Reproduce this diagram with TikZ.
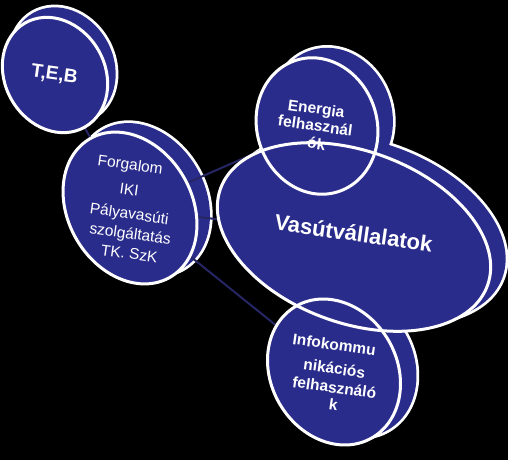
\documentclass[tikz,border=0pt]{standalone}
\usepackage{fontspec}
\setmainfont{Liberation Sans}
\definecolor{discblue}{RGB}{42,44,140}
\definecolor{linkblue}{RGB}{38,38,100}
\begin{document}
\begin{tikzpicture}[x=1pt,y=-1pt,
  backline/.style={draw=white,line width=5.5pt},
  discfill/.style={fill=discblue},
  frontline/.style={draw=white,line width=3pt},
  link/.style={draw=linkblue,line width=2pt},
  lblbase/.style={text=white,inner sep=0pt,rotate=-8,text height=0.72em,text depth=0.12em},
  lblb/.style={lblbase,font=\bfseries\fontsize{15.5}{17}\selectfont},
  lblr/.style={lblbase,font=\fontsize{15.5}{17}\selectfont}]
\fill[black] (0,0) rectangle (508,460);
\useasboundingbox (0,0) rectangle (508,460);
% centres
\coordinate (teb) at (55,75);
\coordinate (forg) at (130,208);
\coordinate (vasut) at (354,237);
\coordinate (energ) at (317,126);
\coordinate (info) at (334,372);
% back discs: outline of the union
\foreach \s in {backline,discfill}{
  \path[\s, rotate around={30:(63,65)}] (63,65) ellipse [x radius=50, y radius=60];
  \path[\s, rotate around={30:(143,199)}] (143,199) ellipse [x radius=62, y radius=80];
  \path[\s, rotate around={-20:(369,229)}] (369,229) ellipse [x radius=142, y radius=86];
  \path[\s, rotate around={18:(332,116)}] (332,116) ellipse [x radius=60, y radius=69];
  \path[\s, rotate around={30:(350,364)}] (350,364) ellipse [x radius=63, y radius=76];
}
% connectors
\draw[link] (teb) -- (forg);
\draw[link] (forg) -- (energ);
\draw[link] (forg) -- (vasut);
\draw[link] (forg) -- (info);
% front discs
\foreach \s in {discfill,frontline}{
  \path[\s, rotate around={30:(teb)}] (teb) ellipse [x radius=50, y radius=60];
  \path[\s, rotate around={30:(forg)}] (forg) ellipse [x radius=62, y radius=80];
  \path[\s, rotate around={-20:(vasut)}] (vasut) ellipse [x radius=142, y radius=86];
  \path[\s, rotate around={18:(energ)}] (energ) ellipse [x radius=60, y radius=69];
  \path[\s, rotate around={30:(info)}] (info) ellipse [x radius=63, y radius=76];
}
% labels
\node[lblb,font=\bfseries\fontsize{19}{21}\selectfont] (tebt) at (54,77) {T,E,B};
\node[lblr] (f1) at (130,167) {Forgalom};
\node[lblr] (f2) at (129,192) {IKI};
\node[lblr] (f3) at (129,216) {Pályavasúti};
\node[lblr] (f4) at (130,236) {szolgáltatás};
\node[lblr] (f5) at (129,256) {TK. SzK};
\node[lblb,font=\bfseries\fontsize{22}{24}\selectfont] (vt) at (353,238) {Vasútvállalatok};
\node[lblb] (e1) at (316,111) {Energia};
\node[lblb] (e2) at (315,128) {felhasznál};
\node[lblb] (e3) at (316,146) {ók};
\node[lblb] (i1) at (334,347) {Infokommu};
\node[lblb] (i2) at (334,371) {nikációs};
\node[lblb] (i3) at (334,390) {felhasználó};
\node[lblb] (i4) at (333,407) {k};
\end{tikzpicture}
\end{document}
